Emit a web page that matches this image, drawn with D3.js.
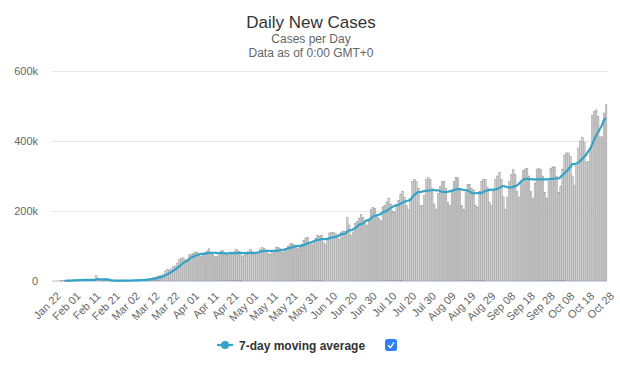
<!DOCTYPE html>
<html><head><meta charset="utf-8">
<script src="https://cdn.jsdelivr.net/npm/d3@7/dist/d3.min.js"></script>
<style>
html,body{margin:0;padding:0;background:#fff;}
svg{display:block;font-family:"Liberation Sans",Arial,sans-serif;}
</style></head>
<body><svg id="chart" width="620" height="366"></svg>
<script>
// Daily new cases per month (Jan 22 .. Oct 28, 2020)
const casesJan = [100,150,280,470,690,790,1760,1460,1740,1980];
const casesFeb = [2100,2610,2830,3240,3910,3730,3160,3420,2680,3000,2540,2050,15140,6500,2630,2090,2030,1900,1750,550,630,1050,1020,600,850,950,1120,1360,1890];
const casesMar = [1800,1930,2400,2240,2850,3920,4050,3900,4300,4580,7260,7500,10760,10900,12400,14900,16800,19600,28500,33300,31000,34800,40900,42900,49500,62000,64100,66300,60100,62700,74600];
const casesApr = [77000,79000,83000,82000,75000,71000,76000,81000,86000,92000,82000,77000,71000,70000,82000,86000,88000,80000,76000,73000,76000,78000,84000,90000,85000,78000,70000,74000,78000,84000];
const casesMay = [91000,84000,79000,78000,80000,91000,95000,93000,87000,78000,76000,85000,88000,97000,96000,94000,82000,89000,94000,100000,106000,108000,104000,96000,92000,96000,105000,117000,123000,125000,108000];
const casesJun = [103000,114000,121000,130000,128000,130000,110000,104000,118000,137000,138000,139000,135000,130000,119000,140000,143000,142000,181000,160000,130000,140000,165000,170000,180000,190000,182000,165000,160000,175000];
const casesJul = [205000,210000,208000,190000,180000,172000,212000,215000,226000,237000,220000,200000,195000,218000,230000,248000,256000,238000,215000,205000,236000,285000,290000,284000,265000,215000,215000,245000,290000,295000,290000];
const casesAug = [265000,220000,205000,250000,270000,285000,285000,265000,225000,215000,260000,285000,295000,295000,265000,215000,205000,260000,275000,275000,265000,260000,215000,210000,255000,285000,290000,290000,268000,225000,215000];
const casesSep = [255000,290000,300000,310000,290000,240000,205000,240000,285000,305000,318000,305000,255000,240000,285000,315000,320000,322000,300000,255000,237000,280000,320000,322000,318000,300000,254000,237000,285000,322000];
const casesOct = [326000,326000,300000,254000,270000,320000,360000,366000,366000,355000,300000,274000,330000,380000,400000,411000,395000,340000,341000,380000,474000,485000,489000,470000,412000,412000,480000,505000];

const tickLabels = ["Jan 22","Feb 01","Feb 11","Feb 21","Mar 02","Mar 12","Mar 22","Apr 01","Apr 11","Apr 21","May 01","May 11","May 21","May 31","Jun 10","Jun 20","Jun 30","Jul 10","Jul 20","Jul 30","Aug 09","Aug 19","Aug 29","Sep 08","Sep 18","Sep 28","Oct 08","Oct 18","Oct 28"];
const yTicks = [0, 200000, 400000, 600000];

const daily = [].concat(casesJan,casesFeb,casesMar,casesApr,casesMay,casesJun,casesJul,casesAug,casesSep,casesOct);
const fmt = d3.timeFormat("%b %d");
const categories = d3.timeDay.range(new Date(2020,0,22), new Date(2020,9,29)).map(fmt);
const data = categories.map((c,i)=>({cat:c, value:daily[i]}));
// 7-day moving average (starts at the 7th day)
const ma = data.map((d,i)=> i<6 ? null : {cat:d.cat, value:d3.mean(daily.slice(i-6,i+1))}).filter(d=>d);

const svg = d3.select("#chart");
const pL = 52, pR = 607, pT = 71, pB = 281;

const x = d3.scaleBand().domain(categories).range([pL,pR]).paddingInner(0.18).paddingOuter(0.05);
const y = d3.scaleLinear().domain([0,600000]).range([pB,pT]);

// titles
svg.append("text").attr("x",311).attr("y",28).attr("text-anchor","middle")
  .attr("font-size",17).attr("fill","#333").text("Daily New Cases");
svg.append("text").attr("x",311).attr("y",42.5).attr("text-anchor","middle")
  .attr("font-size",12).attr("fill","#666").text("Cases per Day");
svg.append("text").attr("x",311).attr("y",56.5).attr("text-anchor","middle")
  .attr("font-size",12).attr("fill","#666").text("Data as of 0:00 GMT+0");

// grid + y labels
const yAxis = d3.axisLeft(y).tickValues(yTicks).tickSize(-(pR-pL)).tickPadding(14)
  .tickFormat(d=> d===0 ? "0" : (d/1000)+"k");
const gy = svg.append("g").attr("transform",`translate(${pL},0)`).call(yAxis);
gy.select(".domain").remove();
gy.selectAll(".tick line").attr("stroke","#e6e6e6");
gy.selectAll(".tick text").attr("font-size",11).attr("fill","#666").attr("font-family","Liberation Sans, Arial, sans-serif");

// bars
svg.append("g").selectAll("rect").data(data).join("rect")
  .attr("x",d=>x(d.cat)).attr("width",x.bandwidth())
  .attr("y",d=>y(d.value)).attr("height",d=>pB-y(d.value))
  .attr("fill","#cfcfcf").attr("stroke","#959595").attr("stroke-width",0.45);

// x axis
const xAxis = d3.axisBottom(x).tickValues(tickLabels).tickSize(0).tickPadding(8);
const gx = svg.append("g").attr("transform",`translate(0,${pB})`).call(xAxis);
gx.select(".domain").attr("stroke","#ccd6eb").attr("d",`M${pL},0.5H${pR}`);
gx.selectAll(".tick text").attr("font-size",11).attr("fill","#666")
  .attr("font-family","Liberation Sans, Arial, sans-serif")
  .attr("text-anchor","end").attr("dy",null)
  .attr("transform","translate(3,10) rotate(-45)");

// moving average line
svg.append("path").datum(ma)
  .attr("fill","none").attr("stroke","#33a3c7").attr("stroke-width",2.2)
  .attr("stroke-linejoin","round")
  .attr("d", d3.line().x(d=>x(d.cat)+x.bandwidth()/2).y(d=>y(d.value)).curve(d3.curveMonotoneX));

// legend
const lg = svg.append("g");
lg.append("line").attr("x1",217).attr("x2",233).attr("y1",345).attr("y2",345).attr("stroke","#33a3c7").attr("stroke-width",2.2);
lg.append("circle").attr("cx",225).attr("cy",345).attr("r",4).attr("fill","#33a3c7");
lg.append("text").attr("x",239).attr("y",349.5).attr("font-size",12).attr("font-weight","bold").attr("fill","#333").text("7-day moving average");
lg.append("rect").attr("x",385).attr("y",339).attr("width",12).attr("height",12).attr("rx",2.5).attr("fill","#2f7ff6");
lg.append("path").attr("d","M388.2,345.2 L390.4,347.6 L394.2,342.3").attr("fill","none").attr("stroke","#fff").attr("stroke-width",1.4);
</script></body></html>
